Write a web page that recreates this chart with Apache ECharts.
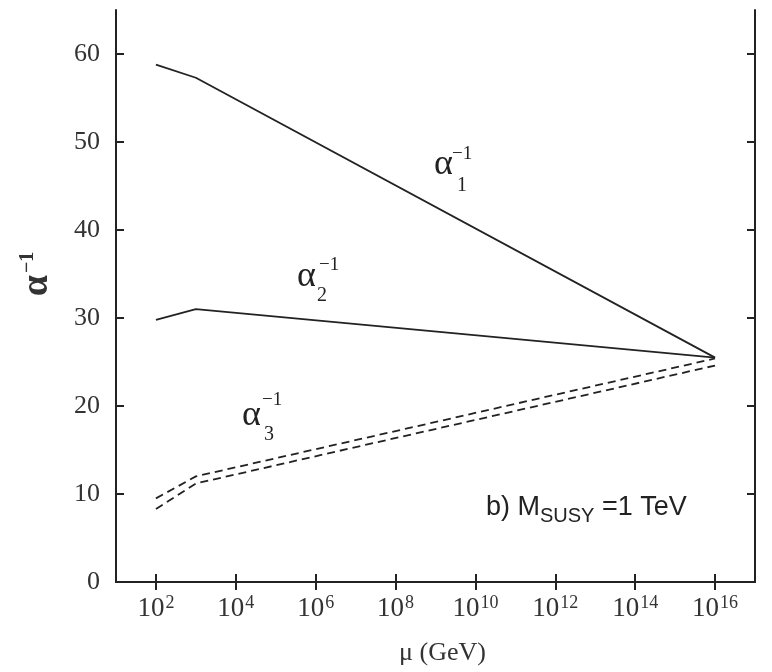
<!DOCTYPE html>
<html>
<head>
<meta charset="utf-8">
<title>Running inverse gauge couplings</title>
<script src="https://cdn.jsdelivr.net/npm/echarts@6/dist/echarts.min.js"></script>
<style>
  html, body { margin: 0; padding: 0; background: #fff; }
  #chart { width: 772px; height: 672px; }
</style>
</head>
<body>
<div id="chart"></div>
<script>
// log10 of the scale mu in GeV
const logMu = [2, 3, 16];
// inverse couplings along the running
const alpha1Inv = [58.8, 57.3, 25.5];
const alpha2Inv = [29.8, 31.0, 25.5];
const alpha3InvUpper = [9.5, 12.0, 25.4];
const alpha3InvLower = [8.3, 11.2, 24.6];
// tick positions
const xTickExps = [2, 4, 6, 8, 10, 12, 14, 16];
const yTickVals = [0, 10, 20, 30, 40, 50, 60];

const ink = '#222';
const serif = 'Liberation Serif, DejaVu Serif, serif';
const sans = 'Liberation Sans, Arial, sans-serif';

function pairs(xs, ys) { return xs.map((x, i) => [x, ys[i]]); }

// alpha with a "-1" superscript and an index subscript; each piece is
// placed by its left edge and vertical centre
function greekLabel(a, sup, sub, index) {
  const piece = (p, text, size) => ({
    type: 'text', x: p[0], y: p[1],
    style: { text: text, font: size + 'px ' + serif, fill: ink, verticalAlign: 'middle' }
  });
  return {
    type: 'group',
    children: [
      piece(a, 'α', 36),
      piece(sup, '−1', 19),
      piece(sub, index, 20)
    ]
  };
}

const frameAxisLine = { show: true, lineStyle: { color: ink, width: 2 } };
const inTick = { show: true, inside: true, length: 8, lineStyle: { color: ink, width: 2 } };

const option = {
  animation: false,
  backgroundColor: '#fff',
  grid: { left: 116, right: 17, top: 10, bottom: 90, containLabel: false },
  xAxis: [
    {
      type: 'value', min: 1, max: 17, position: 'bottom',
      axisLine: frameAxisLine,
      axisTick: Object.assign({ customValues: xTickExps }, inTick),
      splitLine: { show: false },
      axisLabel: {
        customValues: xTickExps, margin: 12,
        formatter: v => '{b|10}{s|' + v + '}',
        rich: {
          b: { fontFamily: serif, fontSize: 27, color: '#333', lineHeight: 30 },
          s: { fontFamily: serif, fontSize: 18, color: '#333', verticalAlign: 'top', padding: [0, 0, 12, 1] }
        }
      },
      name: 'μ (GeV)', nameLocation: 'middle', nameGap: 58,
      nameTextStyle: { fontFamily: serif, fontSize: 26, color: '#333', padding: [0, 0, 0, 14] }
    },
    {
      type: 'value', min: 1, max: 17, position: 'top',
      axisLine: frameAxisLine,
      axisTick: Object.assign({ customValues: xTickExps }, inTick),
      axisLabel: { show: false }, splitLine: { show: false }
    }
  ],
  yAxis: [
    {
      type: 'value', min: 0, max: 65, position: 'left',
      axisLine: frameAxisLine,
      axisTick: Object.assign({ customValues: yTickVals }, inTick),
      splitLine: { show: false },
      axisLabel: {
        customValues: yTickVals, margin: 16,
        fontFamily: serif, fontSize: 26, color: '#333'
      }
    },
    {
      type: 'value', min: 0, max: 65, position: 'right',
      axisLine: frameAxisLine,
      axisTick: Object.assign({ customValues: yTickVals }, inTick),
      axisLabel: { show: false }, splitLine: { show: false }
    }
  ],
  series: [
    { name: 'alpha1', type: 'line', data: pairs(logMu, alpha1Inv), symbol: 'none',
      lineStyle: { color: ink, width: 1.8 } },
    { name: 'alpha2', type: 'line', data: pairs(logMu, alpha2Inv), symbol: 'none',
      lineStyle: { color: ink, width: 1.8 } },
    { name: 'alpha3 upper', type: 'line', data: pairs(logMu, alpha3InvUpper), symbol: 'none',
      lineStyle: { color: ink, width: 1.8, type: [8, 5] } },
    { name: 'alpha3 lower', type: 'line', data: pairs(logMu, alpha3InvLower), symbol: 'none',
      lineStyle: { color: ink, width: 1.8, type: [8, 5] } }
  ],
  graphic: [
    // y-axis title, reading bottom to top
    {
      type: 'text', x: 37, y: 274, rotation: Math.PI / 2,
      style: {
        text: '{a|α}{s|−1}', align: 'center', verticalAlign: 'middle',
        rich: {
          a: { fontFamily: serif, fontSize: 38, fontWeight: 'bold', fill: '#333' },
          s: { fontFamily: serif, fontSize: 20, fontWeight: 'bold', fill: '#333', verticalAlign: 'top', padding: [0, 0, 16, 2] }
        }
      }
    },
    greekLabel([434, 165], [452, 154], [457, 186], '1'),
    greekLabel([297, 277], [319, 265], [317, 296], '2'),
    greekLabel([242, 416], [262, 400], [264, 435], '3'),
    {
      type: 'group', left: 486, top: 494,
      children: [
        { type: 'text', x: 0, y: 0, style: { text: 'b) M', font: '27px ' + sans, fill: ink } },
        { type: 'text', x: 54, y: 12, style: { text: 'SUSY', font: '20px ' + sans, fill: ink } },
        { type: 'text', x: 116, y: 0, style: { text: '=1 TeV', font: '27px ' + sans, fill: ink } }
      ]
    }
  ]
};

const chart = echarts.init(document.getElementById('chart'), null, { renderer: 'canvas' });
chart.setOption(option);
</script>
</body>
</html>
